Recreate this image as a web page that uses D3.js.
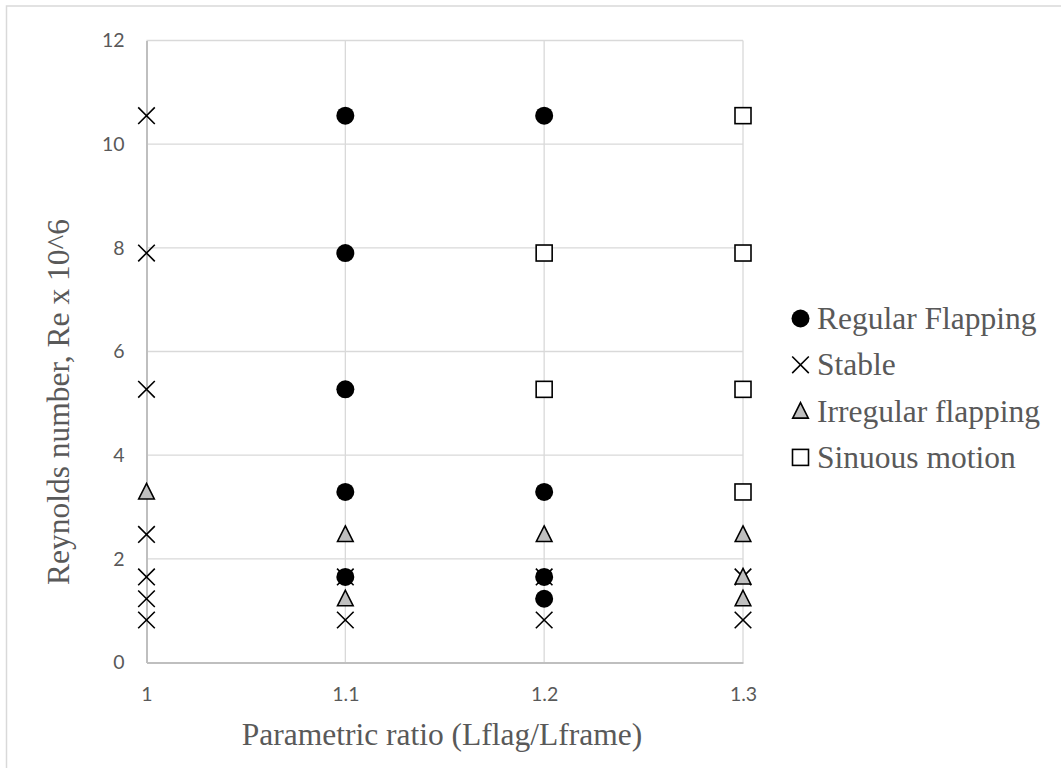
<!DOCTYPE html>
<html>
<head>
<meta charset="utf-8">
<script src="https://cdn.jsdelivr.net/npm/d3@7"></script>
<style>
  html, body { margin: 0; padding: 0; background: #fff; }
  svg { display: block; }
</style>
</head>
<body>
<svg id="chart" width="1061" height="768"></svg>
<script>
// Reynolds number levels (x 10^6) tested at each parametric ratio
const xTicks = [1, 1.1, 1.2, 1.3];
const yTicks = [0, 2, 4, 6, 8, 10, 12];

const regularFlapping = [
  [1.1, 10.55], [1.1, 7.9], [1.1, 5.27], [1.1, 3.29], [1.1, 1.65],
  [1.2, 10.55], [1.2, 3.29], [1.2, 1.65], [1.2, 1.23]
];
const stable = [
  [1, 10.55], [1, 7.9], [1, 5.27], [1, 2.47], [1, 1.65], [1, 1.23], [1, 0.82],
  [1.1, 1.65], [1.1, 0.82],
  [1.2, 1.65], [1.2, 0.82],
  [1.3, 1.65], [1.3, 0.82]
];
const irregularFlapping = [
  [1, 3.29], [1.1, 2.47], [1.1, 1.23], [1.2, 2.47],
  [1.3, 2.47], [1.3, 1.65], [1.3, 1.23]
];
const sinuousMotion = [
  [1.2, 7.9], [1.2, 5.27],
  [1.3, 10.55], [1.3, 7.9], [1.3, 5.27], [1.3, 3.29]
];

const seriesNames = ["Regular Flapping", "Stable", "Irregular flapping", "Sinuous motion"];
const seriesData = [regularFlapping, stable, irregularFlapping, sinuousMotion];
const seriesShapes = ["circle", "cross", "triangle", "square"];

const serif = "'Liberation Serif', 'Times New Roman', serif";
const textGray = "#595959";

const svg = d3.select("#chart");

// outer chart frame
svg.append("rect")
  .attr("x", 6.5).attr("y", 6)
  .attr("width", 1080).attr("height", 800)
  .attr("fill", "none").attr("stroke", "#d9d9d9").attr("stroke-width", 1.5);

const plot = { left: 146.5, right: 743, top: 40.5, bottom: 662.5 };

const x = d3.scaleLinear().domain([1, 1.3]).range([plot.left, plot.right]);
const y = d3.scaleLinear().domain([0, 12]).range([plot.bottom, plot.top]);

// gridlines
const grid = svg.append("g");
grid.selectAll("line.h").data(yTicks.filter(d => d > 0)).join("line")
  .attr("x1", plot.left).attr("x2", plot.right)
  .attr("y1", d => y(d)).attr("y2", d => y(d))
  .attr("stroke", "#d9d9d9").attr("stroke-width", 1.3);
grid.selectAll("line.v").data(xTicks.filter(d => d > 1)).join("line")
  .attr("x1", d => x(d)).attr("x2", d => x(d))
  .attr("y1", plot.top).attr("y2", plot.bottom)
  .attr("stroke", "#d9d9d9").attr("stroke-width", 1.3);

// axes
const yAxis = d3.axisLeft(y).tickValues(yTicks).tickSize(0).tickPadding(22);
const xAxis = d3.axisBottom(x).tickValues(xTicks).tickSize(0).tickPadding(25)
  .tickFormat(d => String(d));

const gy = svg.append("g").attr("transform", `translate(${plot.left},0)`).call(yAxis);
const gx = svg.append("g").attr("transform", `translate(0,${plot.bottom})`).call(xAxis);
[gx, gy].forEach(g => {
  g.select(".domain").attr("stroke", "#bfbfbf").attr("stroke-width", 2);
  g.selectAll("text")
    .attr("fill", textGray)
    .style("font-family", "Lato, 'Open Sans', sans-serif")
    .style("font-size", "19.5px");
});

// axis titles
svg.append("text")
  .attr("x", 442).attr("y", 745)
  .attr("text-anchor", "middle")
  .attr("fill", textGray)
  .style("font-family", serif)
  .style("font-size", "31.5px")
  .text("Parametric ratio (Lflag/Lframe)");

svg.append("text")
  .attr("transform", "translate(69,402) rotate(-90)")
  .attr("text-anchor", "middle")
  .attr("fill", textGray)
  .style("font-family", serif)
  .style("font-size", "31.5px")
  .text("Reynolds number, Re x 10^6");

// marker drawing
function drawMarker(g, shape) {
  if (shape === "circle") {
    g.append("circle").attr("r", 9).attr("fill", "#000");
  } else if (shape === "cross") {
    const s = 8.3;
    g.append("path").attr("d", `M${-s},${-s}L${s},${s}M${-s},${s}L${s},${-s}`)
      .attr("stroke", "#000").attr("stroke-width", 1.6).attr("fill", "none");
  } else if (shape === "triangle") {
    g.append("path").attr("d", "M0,-8.5L7.8,7L-7.8,7Z")
      .attr("fill", "#bfbfbf").attr("stroke", "#000").attr("stroke-width", 1.6);
  } else if (shape === "square") {
    g.append("rect").attr("x", -8).attr("y", -8).attr("width", 16).attr("height", 16)
      .attr("fill", "#fff").attr("stroke", "#000").attr("stroke-width", 1.6);
  }
}

seriesData.forEach((data, i) => {
  svg.append("g").selectAll("g").data(data).join("g")
    .attr("transform", d => `translate(${x(d[0])},${y(d[1])})`)
    .each(function () { drawMarker(d3.select(this), seriesShapes[i]); });
});

// legend
const legend = svg.append("g");
seriesNames.forEach((name, i) => {
  const row = legend.append("g").attr("transform", `translate(800.5,${318.5 + i * 46.3})`);
  drawMarker(row.append("g"), seriesShapes[i]);
  row.append("text")
    .attr("x", 16.5).attr("y", 10.5)
    .attr("fill", textGray)
    .style("font-family", serif)
    .style("font-size", "31.5px")
    .text(name);
});
</script>
</body>
</html>
